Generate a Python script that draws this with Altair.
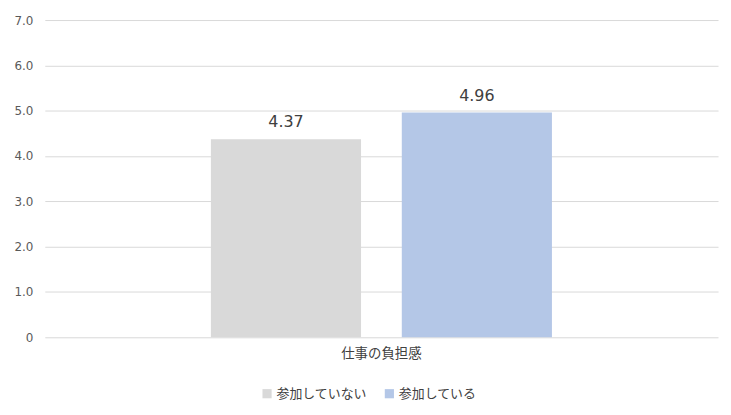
import altair as alt
import pandas as pd

category = ["仕事の負担感", "仕事の負担感"]
series = ["参加していない", "参加している"]
values = [4.37, 4.96]
colors = ["#D9D9D9", "#B4C7E7"]

df = pd.DataFrame({"cat": category, "series": series, "value": values})
df["label"] = df["value"].map(lambda v: f"{v:.2f}")

NUM_FONT = "DejaVu Sans"
JP_FONT = "Noto Sans CJK JP"

base = alt.Chart(df).encode(
    x=alt.X("cat:N", title=None,
            scale=alt.Scale(paddingInner=0, paddingOuter=0.487),
            axis=alt.Axis(labelAngle=0, domain=False, ticks=False, grid=False,
                          labelFont=JP_FONT, labelFontSize=13.5, labelColor="#404040",
                          labelPadding=9)),
    xOffset=alt.XOffset("series:N", sort=series,
                        scale=alt.Scale(paddingInner=0.2135, paddingOuter=0)),
)

bars = base.mark_bar().encode(
    y=alt.Y("value:Q", title=None,
            scale=alt.Scale(domain=[0, 7]),
            axis=alt.Axis(values=[0, 1, 2, 3, 4, 5, 6, 7], domain=False, ticks=False,
                          labelExpr="datum.value == 0 ? '0' : format(datum.value, '.1f')",
                          labelFont=NUM_FONT, labelFontSize=12, labelColor="#595959",
                          labelPadding=12, gridColor="#D9D9D9", gridWidth=1,
                          minExtent=30, maxExtent=30)),
    color=alt.Color("series:N", sort=series, title=None,
                    scale=alt.Scale(domain=series, range=colors),
                    legend=alt.Legend(orient="none", legendX=217, legendY=369,
                                      direction="horizontal",
                                      symbolType="square", symbolSize=85,
                                      symbolStrokeWidth=0,
                                      labelFont=JP_FONT, labelFontSize=13,
                                      labelColor="#404040",
                                      columnPadding=15, labelOffset=3)),
)

text = base.mark_text(baseline="bottom", dy=-9, font=NUM_FONT, fontSize=16,
                      color="#404040").encode(
    y=alt.Y("value:Q"),
    text="label:N",
)

chart = (bars + text).properties(
    width=677, height=319,
    background="white",
    padding={"left": 5, "top": 5, "right": 5, "bottom": 5},
).configure_view(stroke=None)

chart.save("out.html", embed_options={"renderer": "svg", "actions": False})
